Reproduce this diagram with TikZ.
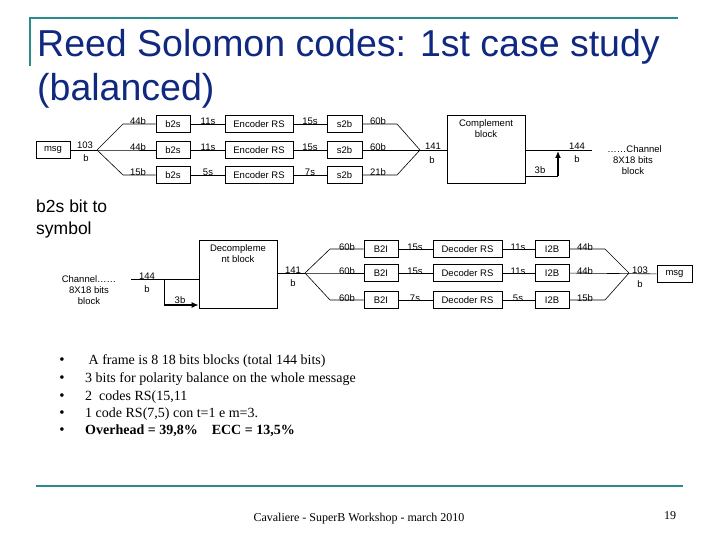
\documentclass[tikz,border=0pt]{standalone}
\usepackage{fontspec}
\setmainfont{Liberation Serif}
\newfontfamily\arialfont{Liberation Sans}
\usetikzlibrary{arrows.meta}
\definecolor{titleblue}{RGB}{16,40,128}
\definecolor{rulegreen}{RGB}{40,140,140}
\tikzset{
  blk/.style={draw, line width=0.6pt, minimum height=17pt, inner sep=0pt, font=\arialfont\fontsize{9.5}{10}\selectfont},
  lbl/.style={inner sep=0pt, font=\arialfont\fontsize{9.5}{11}\selectfont},
  wire/.style={line width=0.6pt},
  bigarrow/.style={line width=2pt, -{Latex[length=7pt,width=6pt]}}
}
\begin{document}
\begin{tikzpicture}[x=1pt, y=-1pt]
			%%%%% START %%%%%
			\useasboundingbox (0,0) rectangle (720,540);
			
			\draw[line width=2.5pt, color=rulegreen] (30,66) -- (30,18) -- (678,18);
			\node[anchor=base west, inner sep=0pt, color=titleblue, font=\arialfont\fontsize{37.5}{40}\selectfont] (title1) at (37,57) {Reed Solomon codes: 1st case study};
			\node[anchor=base west, inner sep=0pt, color=titleblue, font=\arialfont\fontsize{37.5}{40}\selectfont] (title2) at (37,101) {(balanced)};
			
			% encoder chain
			\node[blk, minimum width=34pt] (msgA) at (53,150) {msg};
			\coordinate (splitA) at (97,150);
			\node[lbl] (nA1) at (85,145) {103};
			\node[lbl] (nA2) at (86,158) {b};
			\draw[wire] (msgA) -- (splitA);
			
			\foreach \r/\y/\bits/\sin/\sout/\bout in {1/124/44b/11s/15s/60b, 2/150/44b/11s/15s/60b, 3/175/15b/5s/7s/21b}{
				\coordinate (bendA\r) at (123,\y);
				\node[blk, minimum width=34pt] (b2s\r) at (173,\y) {b2s};
				\node[blk, minimum width=68pt] (enc\r) at (259,\y) {Encoder RS};
				\node[blk, minimum width=35pt] (s2b\r) at (344.5,\y) {s2b};
				\coordinate (bendB\r) at (397,\y);
				\node[lbl, anchor=base] (bA\r) at (138,\y+1) {\bits};
				\node[lbl, anchor=base] (sA\r) at (208,\y+1) {\sin};
				\node[lbl, anchor=base] (sB\r) at (310,\y+1) {\sout};
				\node[lbl, anchor=base] (bB\r) at (378,\y+1) {\bout};
				\draw[wire] (splitA) -- (bendA\r) -- (b2s\r);
				\draw[wire] (b2s\r) -- (enc\r);
				\draw[wire] (enc\r) -- (s2b\r);
			}
			\coordinate (joinA) at (420,150);
			\draw[wire] (s2b1) -- (bendB1) -- (joinA);
			\draw[wire] (s2b3) -- (bendB3) -- (joinA);
			
			\node[draw, line width=0.6pt, minimum width=78pt, minimum height=68pt, inner sep=0pt] (comp) at (486,149) {};
			\node[lbl, align=center, anchor=north] (compText) at ([yshift=-5pt]comp.north) {Complement\\block};
			\draw[wire] (s2b2) -- (comp.west |- s2b2);
			\node[lbl] (nB1) at (433,146) {141};
			\node[lbl] (nB2) at (432,160) {b};
			
			\coordinate (outA) at (592,150);
			\coordinate (tapA) at (558,176);
			\draw[wire] (comp.east |- outA) -- (outA);
			\draw[wire] (comp.east |- tapA) -- (tapA);
			\draw[bigarrow] (tapA) -- ([yshift=-1pt]tapA |- outA);
			\node[lbl, anchor=base] (nC1) at (540,174) {3b};
			\node[lbl] (nC2) at (577,146) {144};
			\node[lbl] (nC3) at (577,159) {b};
			\node[lbl, align=center] (chanA) at (633,160) {\,\,……Channel\\8X18 bits\\block};
			
			\node[anchor=base west, inner sep=0pt, font=\arialfont\fontsize{17.5}{20}\selectfont] (sub1) at (36,212) {b2s bit to};
			\node[anchor=base west, inner sep=0pt, font=\arialfont\fontsize{17.5}{20}\selectfont] (sub2) at (36,234) {symbol};
			
			% decoder chain
			\node[lbl, align=center] (chanB) at (89,290) {Channel……\\8X18 bits\\block};
			\coordinate (inB) at (131,279);
			\coordinate (tapB) at (164,279);
			\coordinate (tapC) at (164,305);
			\node[draw, line width=0.6pt, minimum width=78pt, minimum height=68pt, inner sep=0pt] (decomp) at (238,274) {};
			\node[lbl, align=center, anchor=north] (decompText) at ([yshift=-5pt]decomp.north) {Decompleme\\nt block};
			\draw[wire] (inB) -- (decomp.west |- inB);
			\draw[wire] (tapB) -- (tapC);
			\draw[bigarrow] (tapC) -- (decomp.west |- tapC);
			\node[lbl] (nD1) at (147,276) {144};
			\node[lbl] (nD2) at (147,289) {b};
			\node[lbl, anchor=base] (nD3) at (180,303) {3b};
			
			\coordinate (splitB) at (305,273);
			\draw[wire] (decomp.east |- splitB) -- (splitB);
			\node[lbl] (nE1) at (293,270) {141};
			\node[lbl] (nE2) at (293,283) {b};
			
			\foreach \r/\y/\bits/\sin/\sout/\bout in {1/249/60b/15s/11s/44b, 2/273/60b/15s/11s/44b, 3/300/60b/7s/5s/15b}{
				\coordinate (bendC\r) at (330,\y);
				\node[blk, minimum width=34pt] (b2i\r) at (381,\y) {B2I};
				\node[blk, minimum width=69pt] (dec\r) at (467.5,\y) {Decoder RS};
				\node[blk, minimum width=34pt] (i2b\r) at (552,\y) {I2B};
				\coordinate (bendD\r) at (605,\y);
				\node[lbl, anchor=base] (bC\r) at (347,\y+1) {\bits};
				\node[lbl, anchor=base] (sC\r) at (415,\y+1) {\sin};
				\node[lbl, anchor=base] (sD\r) at (518,\y+1) {\sout};
				\node[lbl, anchor=base] (bD\r) at (585,\y+1) {\bout};
				\draw[wire] (splitB) -- (bendC\r) -- (b2i\r);
				\draw[wire] (b2i\r) -- (dec\r);
				\draw[wire] (dec\r) -- (i2b\r);
			}
			\coordinate (joinB) at (629,273);
			\draw[wire] (i2b1) -- (bendD1) -- (joinB);
			\draw[wire] (i2b3) -- (bendD3) -- (joinB);
			\node[blk, minimum width=35pt] (msgB) at (674.5,274) {msg};
			\draw[wire] (i2b2) -- (msgB);
			\node[lbl] (nF1) at (640,270) {103};
			\node[lbl] (nF2) at (640,284) {b};
			
			% bullets
			\foreach \i/\y/\txt in {1/364/{\ A frame is 8 18 bits blocks (total 144 bits)}, 2/382/{3 bits for polarity balance on the whole message}, 3/400/{2\ \ codes RS(15,11}, 4/417/{1 code RS(7,5) con t=1 e m=3.}, 5/434/{\textbf{Overhead = 39,8\%\quad ECC = 13,5\%}}}{
				\node[anchor=base, inner sep=0pt, font=\fontsize{15}{16}\selectfont] (dot\i) at (62,\y) {\textbullet};
				\node[anchor=base west, inner sep=0pt, font=\fontsize{14}{16}\selectfont] (item\i) at (85,\y) {\txt};
			}
			
			% footer
			\draw[line width=2.5pt, color=rulegreen] (36,486) -- (683,486);
			\node[anchor=base, inner sep=0pt, font=\fontsize{12}{14}\selectfont] (foot) at (359,521) {Cavaliere - SuperB Workshop - march 2010};
			\node[anchor=base, inner sep=0pt, font=\fontsize{12}{14}\selectfont] (page) at (670,519) {19};
			%%%%% END %%%%%
\end{tikzpicture}
\end{document}
